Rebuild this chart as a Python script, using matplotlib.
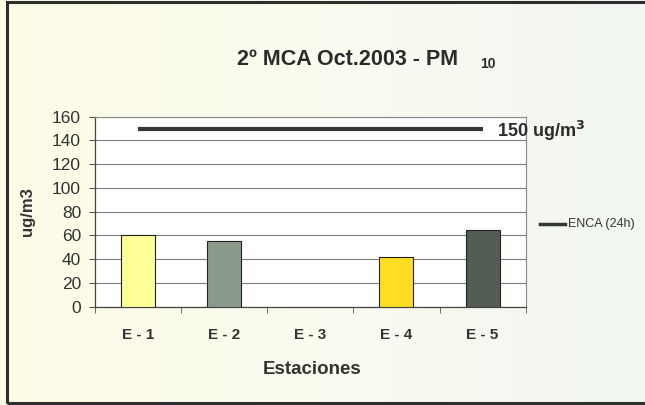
import matplotlib.pyplot as plt
import numpy as np
from matplotlib.colors import LinearSegmentedColormap
from matplotlib.lines import Line2D
from matplotlib.patches import Rectangle

plt.rcParams["font.family"] = ["Liberation Sans", "DejaVu Sans"]

estaciones = ["E - 1", "E - 2", "E - 3", "E - 4", "E - 5"]
pm10 = [60, 55, np.nan, 42, 65]
bar_colors = ["#ffff99", "#8c9a8c", "#ffffff", "#ffdd22", "#535c53"]
enca_24h = 150

fig = plt.figure(figsize=(6.45, 4.05), dpi=100)

# paper-like background, yellowish on the left fading to pale green
bg = fig.add_axes([0, 0, 1, 1], zorder=-10)
grad = np.linspace(0, 1, 256)[None, :]
cmap = LinearSegmentedColormap.from_list("paper", ["#fdfce6", "#fbfbf0", "#f1f6f1"])
bg.imshow(grad, aspect="auto", cmap=cmap, extent=[0, 1, 0, 1])
bg.set_xlim(0, 1)
bg.set_ylim(0, 1)
bg.axis("off")

# dark frame around the chart area
fig.patches.append(Rectangle((7 / 645, 2 / 405), 1.0, 401 / 405, transform=fig.transFigure,
                             fill=False, edgecolor="#2e2e2e", linewidth=2.2))

ax = fig.add_axes([0.1473, 0.2427, 0.6677, 0.4692])
ax.set_facecolor("white")

x = np.arange(len(estaciones))
ax.bar(x, pm10, width=0.395, color=bar_colors, edgecolor="#222222", linewidth=0.8, zorder=3)
ax.plot([x[0], x[-1]], [enca_24h, enca_24h], color="#333833", linewidth=3.0,
        solid_capstyle="butt", zorder=4)

ax.set_xlim(-0.5, len(estaciones) - 0.5)
ax.set_ylim(0, 160)
ax.set_yticks(np.arange(0, 161, 20))
ax.yaxis.grid(True, color="#7a7a7a", linewidth=0.8, zorder=0)
ax.set_axisbelow(True)

ax.set_xticks(x)
ax.set_xticklabels(estaciones, fontsize=11, fontweight="bold", color="#333333")
ax.set_xticks(np.arange(-0.5, len(estaciones)), minor=True)
ax.tick_params(axis="x", which="major", length=0, pad=15)
ax.tick_params(axis="x", which="minor", length=4, direction="out", color="#555555")
ax.tick_params(axis="y", length=4, direction="out", color="#555555", labelsize=12.5,
               labelcolor="#333333", pad=6)

for side in ["top", "right"]:
    ax.spines[side].set_color("#888888")
    ax.spines[side].set_linewidth(0.8)
for side in ["left", "bottom"]:
    ax.spines[side].set_color("#444444")
    ax.spines[side].set_linewidth(0.9)

ax.set_xlabel("Estaciones", fontsize=13.5, fontweight="bold", color="#333333")
ax.xaxis.set_label_coords(0.504, -0.285)
ax.set_ylabel("ug/m3", fontsize=12, fontweight="bold", color="#333333")
ax.yaxis.set_label_coords(-0.139, 0.5)

fig.text(0.5395, 0.853, "2º MCA Oct.2003 - PM", fontsize=15.5, fontweight="bold",
         color="#2b2b2b", ha="center", va="center")
fig.text(480 / 645, 0.841, "10", fontsize=10, fontweight="bold", color="#2b2b2b",
         ha="left", va="center")

fig.text(497 / 645, 1 - 131 / 405, "150 ug/m$^{\\mathbf{3}}$", fontsize=13, fontweight="bold",
         color="#2b2b2b", ha="left", va="center")

# legend entry for the norm line
leg_y = 1 - 224 / 405
fig.add_artist(Line2D([540 / 645, 565 / 645], [leg_y, leg_y], transform=fig.transFigure,
                      color="#333833", linewidth=2.5))
fig.text(568 / 645, leg_y, "ENCA (24h)", fontsize=9, color="#333333", ha="left", va="center")

fig.savefig("out.png", dpi=100)
